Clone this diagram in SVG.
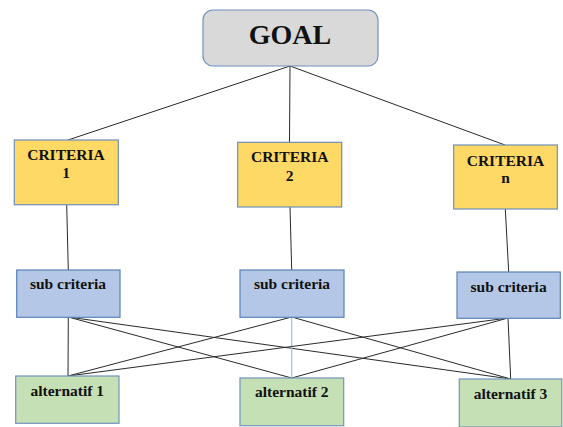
<svg xmlns="http://www.w3.org/2000/svg" width="563" height="427" viewBox="0 0 563 427">
<style>
  .t { font-family: 'Liberation Serif', 'DejaVu Serif', serif; font-weight: 700; fill: #111; text-anchor: middle; }
  .goal { fill: #d9d9d9; stroke: #6d92c2; stroke-width: 1.2; }
  .crit { fill: #ffd966; stroke: #6f8fb8; stroke-width: 1.2; }
  .sub { fill: #b4c7e7; stroke: #5b82b8; stroke-width: 1.2; }
  .alt { fill: #c5e0b4; stroke: #7393be; stroke-width: 1.2; }
  .ln { stroke: #2a2a2a; stroke-width: 1; fill: none; }
  .lnb { stroke: #9dc3e6; stroke-width: 1.3; fill: none; }
</style>
<rect width="563" height="427" fill="#ffffff"/>
<g id="connectors">
  <line class="ln" x1="290" y1="66" x2="68" y2="140"/>
  <line class="ln" x1="290" y1="66" x2="289.5" y2="142"/>
  <line class="ln" x1="290" y1="66" x2="505" y2="145"/>
  <line class="ln" x1="66.7" y1="205" x2="68.3" y2="270"/>
  <line class="ln" x1="290" y1="207" x2="291.7" y2="270"/>
  <line class="ln" x1="505.3" y1="209" x2="508.7" y2="272"/>
  <line class="ln" x1="68.3" y1="317" x2="68" y2="376"/>
  <line class="ln" x1="68.3" y1="317" x2="291.7" y2="378"/>
  <line class="ln" x1="68.3" y1="317" x2="510.7" y2="379"/>
  <line class="ln" x1="291.7" y1="317" x2="68" y2="376"/>
  <line class="lnb" x1="291.7" y1="317" x2="291.7" y2="378"/>
  <line class="ln" x1="291.7" y1="317" x2="510.7" y2="379"/>
  <line class="ln" x1="508" y1="318" x2="68" y2="376"/>
  <line class="ln" x1="508" y1="318" x2="291.7" y2="378"/>
  <line class="ln" x1="508" y1="318" x2="510.7" y2="379"/>
</g>
<g id="goal">
  <rect class="goal" x="203" y="10" width="175" height="56" rx="10"/>
  <text class="t" x="290" y="44.3" font-size="28">GOAL</text>
</g>
<g id="criteria1">
  <rect class="crit" x="14.3" y="140" width="104" height="64.7"/>
  <text class="t" x="66" y="160" font-size="15.5">CRITERIA</text>
  <text class="t" x="66" y="178.3" font-size="15.5">1</text>
</g>
<g id="criteria2">
  <rect class="crit" x="237.7" y="142.3" width="104" height="64.7"/>
  <text class="t" x="289.7" y="162.3" font-size="15.5">CRITERIA</text>
  <text class="t" x="289.7" y="180.7" font-size="15.5">2</text>
</g>
<g id="criteriaN">
  <rect class="crit" x="453.7" y="145" width="103.6" height="64"/>
  <text class="t" x="505.5" y="165.7" font-size="15.5">CRITERIA</text>
  <text class="t" x="505.5" y="183.3" font-size="15.5">n</text>
</g>
<g id="sub1">
  <rect class="sub" x="16.7" y="270" width="103.3" height="47.3"/>
  <text class="t" x="68" y="289.3" font-size="15.5">sub criteria</text>
</g>
<g id="sub2">
  <rect class="sub" x="240" y="270" width="104" height="47.3"/>
  <text class="t" x="292" y="289.3" font-size="15.5">sub criteria</text>
</g>
<g id="sub3">
  <rect class="sub" x="457" y="272" width="103.3" height="46.3"/>
  <text class="t" x="508.6" y="291.7" font-size="15.5">sub criteria</text>
</g>
<g id="alt1">
  <rect class="alt" x="15.7" y="376" width="103.3" height="47.3"/>
  <text class="t" x="67.3" y="395.7" font-size="15.5">alternatif 1</text>
</g>
<g id="alt2">
  <rect class="alt" x="240" y="378" width="103.7" height="47.7"/>
  <text class="t" x="291.8" y="397.3" font-size="15.5">alternatif 2</text>
</g>
<g id="alt3">
  <rect class="alt" x="459.3" y="379" width="102.5" height="48"/>
  <text class="t" x="510.5" y="399" font-size="15.5">alternatif 3</text>
</g>
</svg>
